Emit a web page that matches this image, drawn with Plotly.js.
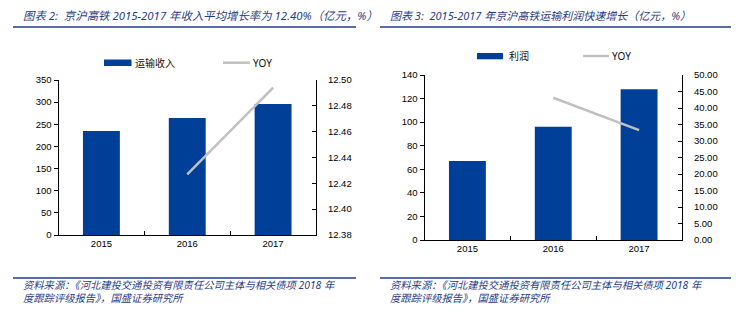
<!DOCTYPE html>
<html><head><meta charset="utf-8">
<script src="https://cdn.plot.ly/plotly-3.0.1.min.js"></script>
<style>html,body{margin:0;padding:0;background:#fff}#c{width:740px;height:325px}</style>
</head><body><div id="c"></div>
<script>
const years = ['2015','2016','2017'];
const revenue = [235, 264, 296];
const revenueYoy = [null, 12.427, 12.494];
const profit = [67, 96, 128];
const profitYoy = [null, 43.1, 33.3];
const seriesLeft = ['运输收入', 'YOY'];
const seriesRight = ['利润', 'YOY'];
const titleLeft = '图表 2:  京沪高铁 2015-2017 年收入平均增长率为 12.40%（亿元，%）';
const titleRight = '图表 3:  2015-2017 年京沪高铁运输利润快速增长（亿元，%）';
const source1 = '资料来源：《河北建投交通投资有限责任公司主体与相关债项 2018 年';
const source2 = '度跟踪评级报告》，国盛证券研究所';

const W = 740, H = 325;
const px = x => x / W, py = y => 1 - y / H;
const BAR = '#003f98', GRAY = '#c0c0c0', BLUE = '#1f3c88';
const FONT = 'Noto Sans, "Noto Sans CJK SC", sans-serif';
const TFONT = '"Liberation Sans", Arial, sans-serif';

const traces = [
  {type:'bar', x: years, y: revenue, xaxis:'x', yaxis:'y', marker:{color:BAR}, width:0.43, name: seriesLeft[0], showlegend:false, hoverinfo:'skip'},
  {type:'scatter', mode:'lines', x: years, y: revenueYoy, xaxis:'x', yaxis:'y2', line:{color:GRAY, width:2.5}, name: seriesLeft[1], showlegend:false, hoverinfo:'skip'},
  {type:'bar', x: years, y: profit, xaxis:'x2', yaxis:'y3', marker:{color:BAR}, width:0.43, name: seriesRight[0], showlegend:false, hoverinfo:'skip'},
  {type:'scatter', mode:'lines', x: years, y: profitYoy, xaxis:'x2', yaxis:'y4', line:{color:GRAY, width:2.5}, name: seriesRight[1], showlegend:false, hoverinfo:'skip'}
];

const tf = {family: TFONT, size: 9.5, color: '#000'};
const xcommon = {type:'category', showline:true, linecolor:'#000', linewidth:1, ticks:'inside', tickson:'boundaries', ticklen:4, tickcolor:'#000', tickfont: tf, showgrid:false, zeroline:false, fixedrange:true};
const ycommon = {showline:true, linecolor:'#000', linewidth:1, ticks:'outside', ticklen:4, tickcolor:'#000', tickfont: tf, showgrid:false, zeroline:false, fixedrange:true};

const lDom = [px(58.5), px(316)], lY = [py(235), py(80)];
const rDom = [px(424.5), px(682)], rY = [py(240), py(75)];

function lbl(text, x, y, size, color, italic) {
  return {text: italic ? '<i>'+text+'</i>' : text, xref:'paper', yref:'paper', x:px(x), y:py(y), xanchor:'left', yanchor:'middle', align:'left', showarrow:false, font:{family:FONT, size:size, color:color}};
}

const layout = {
  width: W, height: H, margin:{l:0,r:0,t:0,b:0}, paper_bgcolor:'#fff', plot_bgcolor:'#fff',
  showlegend:false,
  xaxis: Object.assign({}, xcommon, {domain:lDom, anchor:'y'}),
  yaxis: Object.assign({}, ycommon, {domain:lY, anchor:'x', range:[0,350], dtick:50}),
  yaxis2: Object.assign({}, ycommon, {overlaying:'y', side:'right', anchor:'x', range:[12.38,12.50], dtick:0.02, tickformat:'.2f', ticks:'inside', ticklabelstandoff:9}),
  xaxis2: Object.assign({}, xcommon, {domain:rDom, anchor:'y3'}),
  yaxis3: Object.assign({}, ycommon, {domain:rY, anchor:'x2', range:[0,140], dtick:20}),
  yaxis4: Object.assign({}, ycommon, {overlaying:'y3', side:'right', anchor:'x2', range:[0,50], dtick:5, tickformat:'.2f', ticks:'inside', ticklabelstandoff:9}),
  shapes: [
    {type:'line', xref:'paper', yref:'paper', x0:px(13), x1:px(356), y0:py(27), y1:py(27), line:{color:BLUE, width:1.5}},
    {type:'line', xref:'paper', yref:'paper', x0:px(380), x1:px(731), y0:py(27), y1:py(27), line:{color:BLUE, width:1.5}},
    {type:'line', xref:'paper', yref:'paper', x0:px(13), x1:px(356), y0:py(278), y1:py(278), line:{color:BLUE, width:1.5}},
    {type:'line', xref:'paper', yref:'paper', x0:px(380), x1:px(731), y0:py(278), y1:py(278), line:{color:BLUE, width:1.5}},
    {type:'rect', xref:'paper', yref:'paper', x0:px(104), x1:px(131.5), y0:py(66), y1:py(59.5), fillcolor:BAR, line:{width:0}},
    {type:'line', xref:'paper', yref:'paper', x0:px(223), x1:px(250), y0:py(62.7), y1:py(62.7), line:{color:GRAY, width:2.5}},
    {type:'rect', xref:'paper', yref:'paper', x0:px(477), x1:px(503), y0:py(59.3), y1:py(53), fillcolor:BAR, line:{width:0}},
    {type:'line', xref:'paper', yref:'paper', x0:px(583), x1:px(609), y0:py(56), y1:py(56), line:{color:GRAY, width:2.5}}
  ],
  annotations: [
    lbl(titleLeft, 21, 15, 11.4, BLUE, true),
    lbl(titleRight, 388, 15, 11, BLUE, true),
    lbl(source1 + '<br>' + source2, 21, 291.5, 10.3, BLUE, true),
    lbl(source1 + '<br>' + source2, 388, 291.5, 10.3, BLUE, true),
    lbl(seriesLeft[0], 133, 62.7, 10, '#111', false),
    lbl(seriesLeft[1], 251, 62.7, 10, '#111', false),
    lbl(seriesRight[0], 507, 56, 10, '#111', false),
    lbl(seriesRight[1], 610, 56, 10, '#111', false)
  ]
};
Plotly.newPlot('c', traces, layout, {displayModeBar:false, staticPlot:true});
</script></body></html>
